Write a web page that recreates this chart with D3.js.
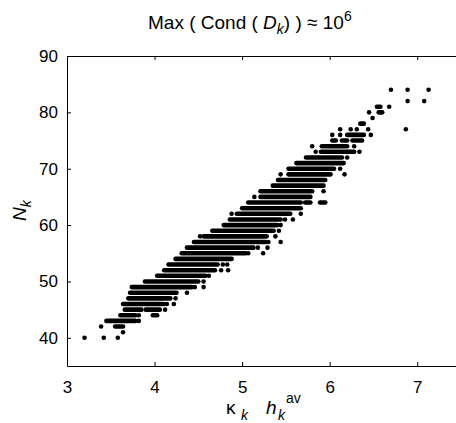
<!DOCTYPE html>
<html>
<head>
<meta charset="utf-8">
<script src="https://cdn.jsdelivr.net/npm/d3@7"></script>
<style>
    body { margin: 0; background: #fff; }
    svg { display: block; font-family: "Liberation Sans", Arial, sans-serif; }
</style>
</head>
<body>
<div id="container"></div>
<script>
// runs of dense points on one integer level: N, start, end
const bandN     = [42, 43, 44, 44, 45, 45, 46, 47, 48, 49, 50, 51, 52, 53, 54, 55, 56, 57, 58, 59, 60, 61, 62, 63, 64, 64, 64, 65, 66, 67, 68, 69, 70, 71, 72, 73, 74, 75, 75, 75, 76, 78, 80, 81];
const bandStart = [3.55, 3.45, 3.61, 3.98, 3.66, 3.90, 3.64, 3.70, 3.72, 3.74, 3.89, 4.03, 4.11, 4.16, 4.24, 4.31, 4.37, 4.45, 4.56, 4.66, 4.79, 4.86, 4.94, 5.00, 5.07, 5.72, 5.89, 5.21, 5.21, 5.35, 5.41, 5.53, 5.53, 5.62, 5.73, 5.90, 5.91, 6.03, 6.14, 6.26, 6.20, 6.35, 6.56, 6.54];
const bandEnd   = [3.64, 3.78, 3.78, 4.03, 3.85, 4.06, 4.10, 4.18, 4.25, 4.43, 4.50, 4.58, 4.69, 4.72, 4.88, 5.04, 5.13, 5.27, 5.28, 5.36, 5.40, 5.44, 5.55, 5.67, 5.67, 5.78, 5.95, 5.78, 5.80, 5.93, 5.95, 6.01, 6.05, 6.16, 6.14, 6.28, 6.20, 6.07, 6.20, 6.37, 6.39, 6.39, 6.60, 6.58];

// isolated points
const dotN = [40, 40, 40, 41, 42, 43, 44, 45, 46, 46, 47, 48, 49, 49, 50, 51, 52, 52, 53, 53, 55, 55, 56, 56, 57, 57, 58, 58, 59, 60, 61, 61, 62, 62, 65, 66, 69, 69, 70, 72, 73, 73, 74, 74, 76, 76, 76, 77, 77, 77, 77, 77, 79, 80, 81, 82, 82, 84, 84, 84];
const dotX = [3.20, 3.42, 3.58, 3.64, 3.39, 3.82, 3.82, 4.12, 4.14, 4.22, 4.24, 4.37, 4.46, 4.56, 4.56, 4.62, 4.76, 4.84, 4.78, 4.83, 5.07, 5.24, 5.18, 5.29, 5.30, 5.44, 4.52, 5.38, 5.42, 5.44, 5.49, 5.58, 4.88, 5.67, 5.14, 5.93, 5.44, 6.17, 6.12, 6.20, 5.84, 6.34, 5.80, 6.28, 6.03, 6.12, 6.47, 6.12, 6.24, 6.31, 6.44, 6.87, 6.49, 6.45, 6.68, 6.89, 7.08, 6.70, 6.89, 7.13];

const xDomain = [3, 7.5];
const yDomain = [35, 90];
const xTicks = [3, 4, 5, 6, 7];
const yTicks = [40, 50, 60, 70, 80, 90];

const width = 456, height = 423;
const plotLeft = 67, plotRight = 461, plotTop = 56, plotBottom = 366;
const dotR = 2.3;

const svg = d3.select("#container").append("svg")
    .attr("width", width)
    .attr("height", height);

const x = d3.scaleLinear().domain(xDomain).range([plotLeft, plotRight]);
const y = d3.scaleLinear().domain(yDomain).range([plotBottom, plotTop]);

// points
const marks = svg.append("g");
marks.selectAll("line")
    .data(d3.range(bandN.length))
    .join("line")
    .attr("x1", i => x(bandStart[i]))
    .attr("x2", i => x(bandEnd[i]))
    .attr("y1", i => y(bandN[i]))
    .attr("y2", i => y(bandN[i]))
    .attr("stroke", "#000")
    .attr("stroke-width", dotR * 2)
    .attr("stroke-linecap", "round");

marks.selectAll("circle")
    .data(d3.range(dotN.length))
    .join("circle")
    .attr("cx", i => x(dotX[i]))
    .attr("cy", i => y(dotN[i]))
    .attr("r", dotR)
    .attr("fill", "#000");

// axes (box with inward ticks)
function styleAxis(g) {
    g.selectAll("path").attr("stroke", "#000").attr("stroke-width", 1);
    g.selectAll("line").attr("stroke", "#000");
    g.selectAll("text").attr("fill", "#000").attr("font-size", 17);
}

const fmt = d3.format("d");

svg.append("g")
    .attr("transform", `translate(0,${plotBottom})`)
    .call(d3.axisBottom(x).tickValues(xTicks).tickFormat(fmt).tickSizeInner(-4).tickSizeOuter(0).tickPadding(15))
    .call(styleAxis);

svg.append("g")
    .attr("transform", `translate(0,${plotTop})`)
    .call(d3.axisTop(x).tickValues(xTicks).tickSizeInner(-4).tickSizeOuter(0).tickFormat(""))
    .call(styleAxis);

svg.append("g")
    .attr("transform", `translate(${plotLeft},0)`)
    .call(d3.axisLeft(y).tickValues(yTicks).tickFormat(fmt).tickSizeInner(-4).tickSizeOuter(0).tickPadding(9))
    .call(styleAxis);

// title
const title = svg.append("text")
    .attr("x", 148)
    .attr("y", 29)
    .attr("font-size", 19)
    .attr("fill", "#000");
title.append("tspan").text("Max ( Cond ( ");
title.append("tspan").attr("font-style", "italic").text("D");
title.append("tspan").attr("font-style", "italic").attr("font-size", 14).attr("dy", 5).text("k");
title.append("tspan").attr("dy", -5).text(") )  \u2248 10");
title.append("tspan").attr("font-size", 14).attr("dy", -8).text("6");

// x label
const xl = svg.append("text")
    .attr("y", 414)
    .attr("font-size", 19)
    .attr("fill", "#000");
xl.append("tspan").attr("x", 226).text("\u03ba");
xl.append("tspan").attr("x", 241).attr("dy", 6).attr("font-style", "italic").attr("font-size", 14).text("k");
xl.append("tspan").attr("x", 266).attr("dy", -6).attr("font-style", "italic").text("h");
xl.append("tspan").attr("x", 278).attr("dy", 6).attr("font-style", "italic").attr("font-size", 14).text("k");
xl.append("tspan").attr("x", 286).attr("dy", -17).attr("font-size", 14).text("av");

// y label
const yl = svg.append("text")
    .attr("transform", "translate(26,221) rotate(-90)")
    .attr("font-size", 19)
    .attr("fill", "#000");
yl.append("tspan").attr("font-style", "italic").text("N");
yl.append("tspan").attr("font-style", "italic").attr("font-size", 14).attr("dy", 5).text("k");
</script>
</body>
</html>
